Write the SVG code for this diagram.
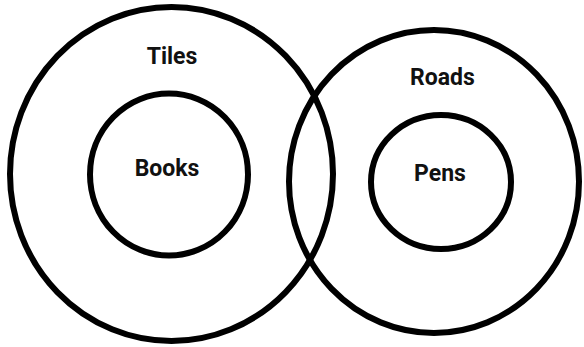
<svg xmlns="http://www.w3.org/2000/svg" width="584" height="347" viewBox="0 0 584 347">
<style>
.c{fill:none;stroke:#000;stroke-width:6}
.t{font-family:Roboto,"Liberation Sans",sans-serif;font-weight:bold;font-size:23px;text-anchor:middle;fill:#111}
</style>
<rect width="584" height="347" fill="#fff"/>
<g id="tiles"><ellipse class="c" cx="171.5" cy="174" rx="161.5" ry="167"/><text class="t" x="172" y="64">Tiles</text></g>
<g id="books"><ellipse class="c" cx="169" cy="174.5" rx="79" ry="81"/><text class="t" x="167" y="176">Books</text></g>
<g id="roads"><ellipse class="c" cx="434" cy="181.5" rx="145" ry="151.5"/><text class="t" x="442.5" y="85">Roads</text></g>
<g id="pens"><ellipse class="c" cx="441" cy="182" rx="70" ry="67"/><text class="t" x="440" y="181">Pens</text></g>
<g id="connectors"/>
</svg>
